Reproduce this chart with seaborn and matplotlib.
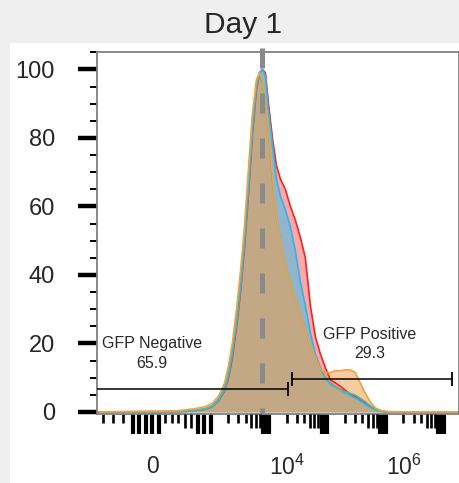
"""
Flow cytometry overlay histogram - Day 1 (GFP channel)
"""

import matplotlib
matplotlib.use("Agg")
import matplotlib.pyplot as plt
from matplotlib.patches import Rectangle
from matplotlib.ticker import FixedLocator, FixedFormatter, MultipleLocator, NullLocator
import numpy as np
import pandas as pd
import seaborn as sns

# ==============================================================
# DATA
# ==============================================================
intensity = [-750, 460, 615, 770, 925, 1080, 1370, 1730, 2030, 2380, 2790,
             3260, 3810, 4470, 5220, 6110, 6890, 7750, 8710, 9820, 11480,
             13430, 15740, 19140, 23330, 28380, 34590, 42070, 51290, 62370,
             75860, 92470, 112500, 137100, 166700, 203200, 247200, 301300,
             366400, 446700, 543300, 662200, 805400, 981800, 1194000, 1.8e7]

red = [0, 0.1, 0.2, 0.4, 0.8, 1.6, 3.2, 6, 10, 16, 25, 35, 48, 64, 81, 94,
       99, 100, 99, 90, 80, 72, 68, 65, 60, 56, 51, 45, 31, 22, 17, 13, 9.4,
       8.5, 7.5, 6.3, 5.2, 4.5, 3.5, 2.5, 1.6, 0.9, 0.4, 0.1, 0, 0]
cyan = [0, 0.1, 0.2, 0.4, 0.8, 1.6, 3.3, 6.3, 10.5, 17, 26, 36, 49, 65, 82,
        95, 99, 100, 98, 88, 78, 68, 63, 59, 54, 47, 38, 31, 23, 17, 13, 10,
        8, 7.2, 6.5, 5.6, 4.8, 4.1, 3.2, 2.2, 1.3, 0.6, 0.2, 0, 0, 0]
green = [0, 0.1, 0.3, 0.5, 1.0, 1.9, 3.8, 7.2, 12, 19, 28, 39, 52, 69, 86,
         96, 98, 96, 90, 82, 68, 57, 50, 43, 38, 33, 29, 24, 19.5, 16, 12.5,
         10, 8.5, 7.4, 6.6, 5.9, 5.4, 4.9, 4, 3, 1.8, 0.8, 0.3, 0.1, 0, 0]
orange = [0, 0.3, 0.6, 1.0, 1.6, 2.6, 4.6, 8.3, 13.5, 20.5, 30, 41, 54, 71,
          87, 97, 99, 97, 91, 83, 69, 57, 50, 43, 38, 33, 29, 24, 19.5, 16,
          12.5, 11.5, 11.5, 12, 12, 12.3, 12.3, 11.5, 8.5, 5.5, 3, 1.2, 0.5,
          0.2, 0, 0]

samples = ["red", "cyan", "green", "orange"]
edge_colors = {"red": "#ff2020", "cyan": "#22bbee", "green": "#55b49c", "orange": "#f5a142"}
fill_colors = {"red": ("#f02828", 0.40), "cyan": ("#41bde9", 0.55),
               "green": ("#5aaa96", 0.15), "orange": ("#f0a252", 0.55)}

# gates: (low, high) and height
neg_gate = [-760, 21500]
neg_gate_y = 6.7
pos_gate = [25200, 1.37e7]
pos_gate_y = 9.6
neg_label, neg_pct = "GFP Negative", "65.9"
pos_label, pos_pct = "GFP Positive", "29.3"
peak_line = 7650

y_ticks = [0, 20, 40, 60, 80, 100]
x_label_pos = [0, 1e4, 1e6]
x_labels = ["0", r"$\mathregular{10^{4}}$", r"$\mathregular{10^{6}}$"]

# logicle-style axis ticks
tall_ticks = [-200, -100, 0, 100, 200, 800, 900, 1e3,
              8e3, 9e3, 1e4, 8e4, 9e4, 1e5, 8e5, 9e5, 1e6, 8e6, 9e6, 1e7]
mid_ticks = [600, 700] + [k * 10 ** n for n in range(3, 7) for k in (5, 6, 7)]
short_ticks = [-650, -500, -350, 300, 400, 500] + [k * 10 ** n for n in range(3, 7) for k in (2, 3, 4)]

df = pd.concat([pd.DataFrame({"intensity": intensity, "count": vals, "sample": name})
                for name, vals in zip(samples, [red, cyan, green, orange])])

# ==============================================================
# STYLE
# ==============================================================
sns.set_style("white")
plt.rcParams["font.family"] = ["Liberation Sans", "DejaVu Sans"]
plt.rcParams["mathtext.fontset"] = "custom"
plt.rcParams["mathtext.rm"] = "Liberation Sans"

fig = plt.figure(figsize=(4.6, 4.83), dpi=100, facecolor="#efefef")
fig.add_artist(Rectangle((10 / 460, 0), 1, (483 - 43) / 483, transform=fig.transFigure,
                         facecolor="white", edgecolor="none", zorder=-1))
ax = fig.add_axes([97 / 460, 1 - 414 / 483, 362 / 460, 362 / 483])
ax.set_facecolor("white")

XLIM = (-750, 1.8e7)
ax.set_xscale("symlog", linthresh=1000, linscale=1)

# ==============================================================
# HISTOGRAMS
# ==============================================================
for name in samples:
    sub = df[df["sample"] == name]
    col, alpha = fill_colors[name]
    ax.fill_between(sub["intensity"], 0, sub["count"], color=col, alpha=alpha, lw=0, zorder=1)

sns.lineplot(data=df, x="intensity", y="count", hue="sample", hue_order=samples,
             palette=edge_colors, estimator=None, sort=False, legend=False,
             lw=1.2, ax=ax, zorder=2)

ax.axvline(peak_line, ymin=1.012, ymax=0, color="#8a8a8a", lw=3.6,
           dashes=(4, 5), clip_on=False, zorder=3)

# gates
ax.plot(neg_gate, [neg_gate_y] * 2, color="black", lw=1.1, marker="|", ms=9.5, mew=1.3, zorder=4)
ax.plot(pos_gate, [pos_gate_y] * 2, color="black", lw=1.1, marker="|", ms=10.5, mew=1.3, zorder=4)
ax.text(100, 19.9, neg_label, ha="center", va="center", fontsize=11.5, color="#282828")
ax.text(100, 14.0, neg_pct, ha="center", va="center", fontsize=11.5, color="#282828")
ax.text(5.4e5, 22.5, pos_label, ha="center", va="center", fontsize=11.5, color="#282828")
ax.text(5.4e5, 17.2, pos_pct, ha="center", va="center", fontsize=11.5, color="#282828")

# ==============================================================
# AXES
# ==============================================================
ax.set_xlim(XLIM)
ax.set_ylim(-0.6, 105.1)
ax.set_xlabel("")
ax.set_ylabel("")

ax.yaxis.set_major_locator(FixedLocator(y_ticks))
ax.yaxis.set_minor_locator(MultipleLocator(5))
ax.tick_params(axis="y", which="major", direction="out", length=13.7, width=3.2,
               color="black", labelsize=17, pad=16.5, left=True, right=False)
ax.tick_params(axis="y", which="minor", direction="out", length=5, width=1.4,
               color="black", left=True, right=False)

labels = [x_labels[x_label_pos.index(t)] if t in x_label_pos else "" for t in tall_ticks]
ax.xaxis.set_major_locator(FixedLocator(tall_ticks))
ax.xaxis.set_major_formatter(FixedFormatter(labels))
ax.xaxis.set_minor_locator(FixedLocator(short_ticks))
ax.tick_params(axis="x", which="major", direction="out", length=14.5, width=3.0,
               color="black", labelsize=16.5, pad=15, bottom=True, top=False)
ax.tick_params(axis="x", which="minor", direction="out", length=6.5, width=1.9,
               color="black", bottom=True, top=False)
for lab in ax.get_xticklabels():
    lab.set_horizontalalignment("left")

# medium-length ticks on a twin axis with the same scale
ax2 = ax.twiny()
ax2.set_xscale("symlog", linthresh=1000, linscale=1)
ax2.set_xlim(XLIM)
ax2.xaxis.set_ticks_position("bottom")
ax2.xaxis.set_major_locator(FixedLocator(mid_ticks))
ax2.xaxis.set_minor_locator(NullLocator())
ax2.set_xticklabels([])
ax2.tick_params(axis="x", which="major", direction="out", length=10, width=1.9, color="black")
for sp in ax2.spines.values():
    sp.set_visible(False)

for side in ["top", "right", "left", "bottom"]:
    ax.spines[side].set_visible(True)
    ax.spines[side].set_color("#808080")
    ax.spines[side].set_linewidth(1.3)

fig.text(243 / 460, 1 - 25 / 483, "Day 1", ha="center", va="center", fontsize=21.5)

fig.savefig("out.png", dpi=100, facecolor=fig.get_facecolor())
